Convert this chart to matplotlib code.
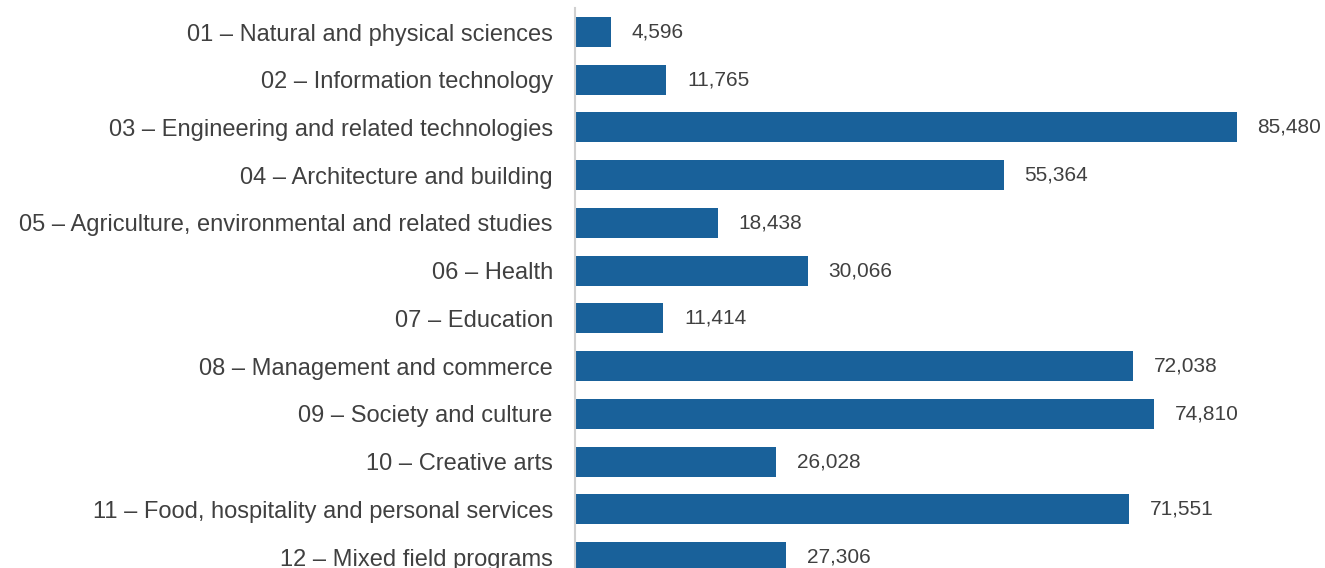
import matplotlib
matplotlib.use("Agg")
import matplotlib.pyplot as plt

categories = [
    "01 – Natural and physical sciences",
    "02 – Information technology",
    "03 – Engineering and related technologies",
    "04 – Architecture and building",
    "05 – Agriculture, environmental and related studies",
    "06 – Health",
    "07 – Education",
    "08 – Management and commerce",
    "09 – Society and culture",
    "10 – Creative arts",
    "11 – Food, hospitality and personal services",
    "12 – Mixed field programs",
]
values = [4596, 11765, 85480, 55364, 18438, 30066, 11414, 72038, 74810, 26028, 71551, 27306]

plt.rcParams['font.family'] = ['Liberation Sans', 'DejaVu Sans']

W, H = 1325, 568
fig = plt.figure(figsize=(W / 100, H / 100), dpi=100)
ax = fig.add_axes([575 / W, 0, 750 / W, 560 / H])

bar_color = "#19619a"
text_color = "#404040"
pos = list(range(len(categories)))
ax.barh(pos, values, height=0.63, color=bar_color, zorder=2)

ax.set_xlim(0, 96880)
ax.set_ylim(11.23, -0.503)

for p, v in zip(pos, values):
    ax.annotate(f"{v:,}", xy=(v, p), xytext=(15, 0), textcoords="offset points",
                ha="left", va="center", fontsize=15, color=text_color)

ax.set_yticks(pos)
ax.set_yticklabels(categories, fontsize=17, color=text_color)
ax.tick_params(axis="y", length=0, pad=16)
ax.set_xticks([])
for s in ["top", "right", "bottom"]:
    ax.spines[s].set_visible(False)
ax.spines["left"].set_color("#d0d0d0")
ax.spines["left"].set_linewidth(1.5)

fig.savefig("out.png", dpi=100)
